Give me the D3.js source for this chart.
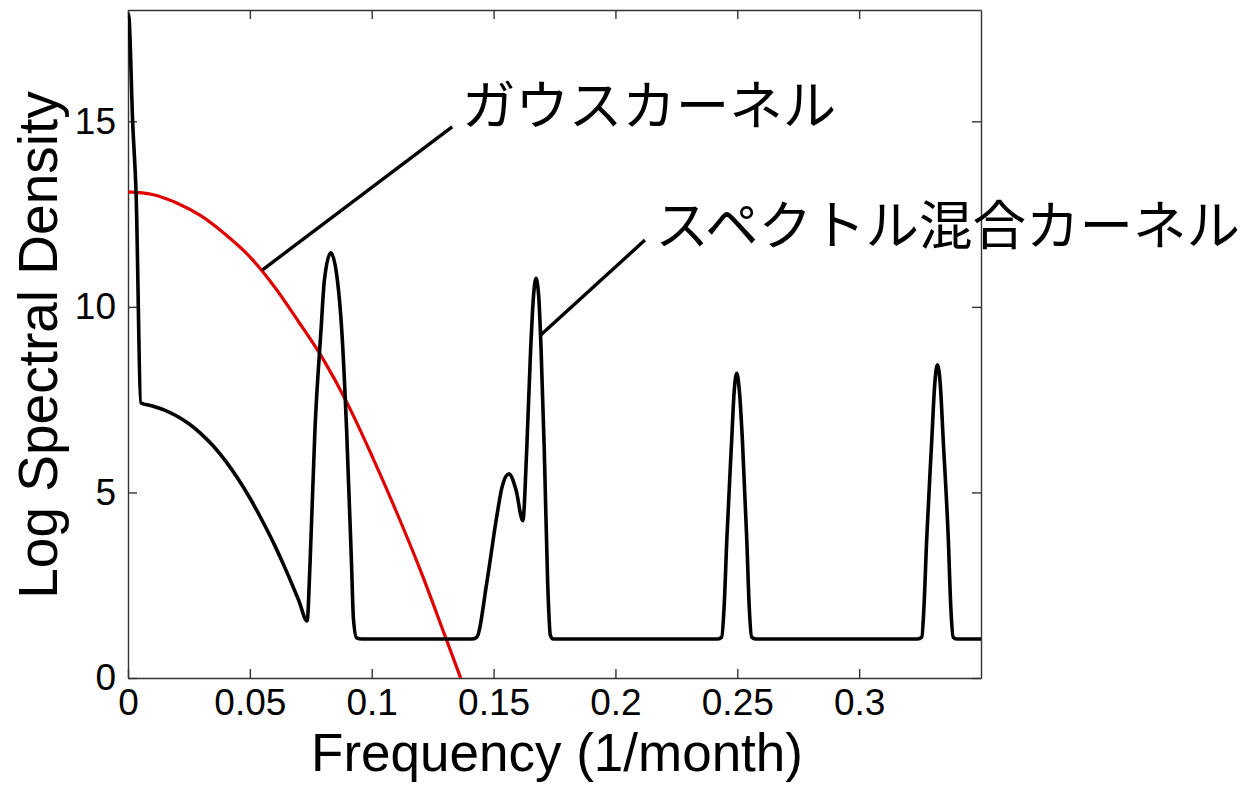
<!DOCTYPE html>
<html>
<head>
<meta charset="utf-8">
<script src="https://cdn.jsdelivr.net/npm/d3@7"></script>
<style>
html,body{margin:0;padding:0;background:#fff;}
svg{display:block;}
</style>
</head>
<body>
<svg id="chart" width="1247" height="785"></svg>
<script>
// ---- data ----
const xTicks = [0, 0.05, 0.1, 0.15, 0.2, 0.25, 0.3];
const xTickLabels = ["0", "0.05", "0.1", "0.15", "0.2", "0.25", "0.3"];
const yTicks = [0, 5, 10, 15];
const yTickLabels = ["0", "5", "10", "15"];

// Gaussian (SE) kernel log spectral density, red
const gaussFreq = [0, 0.01, 0.02, 0.03, 0.04, 0.05, 0.06, 0.07, 0.08, 0.09, 0.10, 0.11, 0.12, 0.13, 0.1365];
const gaussVal  = [13.1, 13.03, 12.8, 12.45, 11.95, 11.35, 10.55, 9.6, 8.6, 7.4, 6.0, 4.5, 2.9, 1.15, 0.0];

// Spectral mixture kernel log spectral density, black
const smFreq = [
  0, 0.0004, 0.0019, 0.0033, 0.0053, 0.01, 0.015, 0.02, 0.025, 0.03, 0.035, 0.04, 0.045, 0.05, 0.055, 0.06, 0.065, 0.07, 0.0735,
  0.0747, 0.0767, 0.0792, 0.0806, 0.0832, 0.0859, 0.0877, 0.0897, 0.0917, 0.0925, 0.0938, 0.096,
  0.141, 0.1431, 0.1472, 0.1513, 0.1535, 0.1563, 0.1592, 0.1620, 0.1636, 0.1652, 0.1664, 0.1674, 0.1685, 0.1695, 0.1708, 0.1722, 0.1733, 0.1745, 0.176,
  0.242, 0.2436, 0.2446, 0.2457, 0.2477, 0.2487, 0.2498, 0.2509, 0.2521, 0.2539, 0.2549, 0.2559, 0.2575,
  0.324, 0.3257, 0.3266, 0.3277, 0.3298, 0.331, 0.3321, 0.3333, 0.3345, 0.3366, 0.3376, 0.3386, 0.34,
  0.35
];
const smVal = [
  17.9, 17.8, 15.0, 13.1, 7.41, 7.33, 7.22, 7.06, 6.85, 6.58, 6.25, 5.85, 5.38, 4.85, 4.25, 3.6, 2.88, 2.1, 1.54,
  3.1, 6.68, 9.38, 10.73, 11.46, 10.73, 9.38, 6.68, 3.1, 1.6, 1.08, 1.05,
  1.05, 1.1, 2.56, 4.35, 5.15, 5.5, 5.07, 4.24, 6.15, 8.84, 10.3, 10.77, 10.3, 8.84, 6.15, 2.56, 1.15, 1.05, 1.05,
  1.05, 1.1, 1.92, 3.72, 6.41, 7.7, 8.21, 7.7, 6.41, 3.72, 1.92, 1.1, 1.05,
  1.05, 1.1, 1.92, 3.72, 6.41, 7.9, 8.44, 7.9, 6.41, 3.72, 1.92, 1.1, 1.05,
  1.05
];

const labelGauss = "ガウスカーネル";
const labelSM = "スペクトル混合カーネル";
const xTitle = "Frequency (1/month)";
const yTitle = "Log Spectral Density";

// annotation anchors in data units: [from f, from v, to f, to v]
const annGauss = [0.0552, 11.0, 0.1330, 14.85];
const annSM = [0.1690, 9.22, 0.2121, 11.8];
const annGaussText = [0.1370, 14.9];
const annSMText = [0.2163, 11.68];

// ---- drawing ----
const svg = d3.select("#chart");
const L = 128, R = 981, T = 10, B = 678;
const x = d3.scaleLinear().domain([0, 0.35]).range([L, R]);
const y = d3.scaleLinear().domain([0, 18]).range([B, T]);

svg.append("defs").append("clipPath").attr("id", "clip")
  .append("rect").attr("x", L).attr("y", T).attr("width", R - L).attr("height", B - T);

const tickFont = "'Liberation Sans', Arial, Helvetica, sans-serif";
const axisColor = "#333";

function styleAxis(g) {
  g.select(".domain").attr("stroke", axisColor).attr("stroke-width", 1.4);
  g.selectAll(".tick line").attr("stroke", axisColor).attr("stroke-width", 1.4);
  g.selectAll(".tick text").attr("fill", "#000").style("font-family", tickFont).style("font-size", "37px");
}

// bottom
const gx = svg.append("g").attr("transform", `translate(0,${B})`)
  .call(d3.axisBottom(x).tickValues(xTicks).tickFormat((d, i) => xTickLabels[i]).tickSizeInner(-9).tickSizeOuter(0).tickPadding(11));
styleAxis(gx);
gx.selectAll(".tick text").attr("dy", "0.71em");
// top
const gt = svg.append("g").attr("transform", `translate(0,${T})`)
  .call(d3.axisTop(x).tickValues(xTicks).tickFormat("").tickSizeInner(-9).tickSizeOuter(0));
styleAxis(gt);
// left
const gy = svg.append("g").attr("transform", `translate(${L},0)`)
  .call(d3.axisLeft(y).tickValues(yTicks).tickFormat((d, i) => yTickLabels[i]).tickSizeInner(-9).tickSizeOuter(0).tickPadding(12));
styleAxis(gy);
// right
const gr = svg.append("g").attr("transform", `translate(${R},0)`)
  .call(d3.axisRight(y).tickValues(yTicks).tickFormat("").tickSizeInner(-9).tickSizeOuter(0));
styleAxis(gr);

// curves
const plot = svg.append("g").attr("clip-path", "url(#clip)");
const gaussData = gaussFreq.map((f, i) => [f, gaussVal[i]]);
const smData = smFreq.map((f, i) => [f, smVal[i]]);

plot.append("path").datum(gaussData)
  .attr("fill", "none").attr("stroke", "#e00000").attr("stroke-width", 3.2)
  .attr("d", d3.line().x(d => x(d[0])).y(d => y(d[1])).curve(d3.curveMonotoneX));

plot.append("path").datum(smData)
  .attr("fill", "none").attr("stroke", "#000").attr("stroke-width", 3.6).attr("stroke-linejoin", "round")
  .attr("d", d3.line().x(d => x(d[0])).y(d => y(d[1])).curve(d3.curveMonotoneX));

// annotations
[annGauss, annSM].forEach(a => {
  svg.append("line")
    .attr("x1", x(a[0])).attr("y1", y(a[1]))
    .attr("x2", x(a[2])).attr("y2", y(a[3]))
    .attr("stroke", "#000").attr("stroke-width", 3.4);
});
const jpFont = "'Noto Sans CJK JP', 'Noto Sans CJK SC', sans-serif";
svg.append("text").attr("x", x(annGaussText[0])).attr("y", y(annGaussText[1]))
  .style("font-family", jpFont).style("font-size", "53.5px").attr("fill", "#000").text(labelGauss);
svg.append("text").attr("x", x(annSMText[0])).attr("y", y(annSMText[1]))
  .style("font-family", jpFont).style("font-size", "53.5px").attr("fill", "#000").text(labelSM);

// axis titles
svg.append("text").attr("x", 557).attr("y", 771).attr("text-anchor", "middle")
  .style("font-family", tickFont).style("font-size", "53px").attr("fill", "#000").text(xTitle);
svg.append("text").attr("transform", "translate(57,345) rotate(-90)").attr("text-anchor", "middle")
  .style("font-family", tickFont).style("font-size", "55px").attr("fill", "#000").text(yTitle);
</script>
</body>
</html>
